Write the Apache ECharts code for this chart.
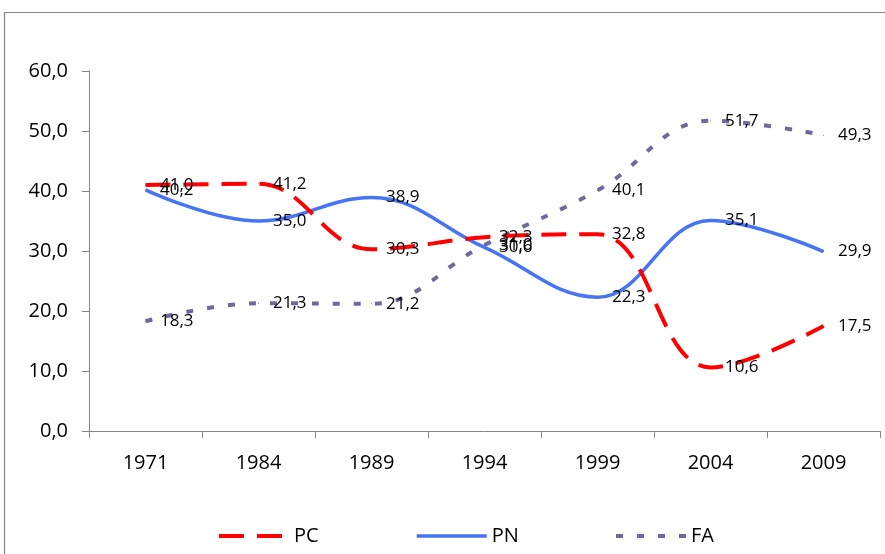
<!DOCTYPE html>
<html>
<head>
<meta charset="utf-8">
<script src="https://cdn.jsdelivr.net/npm/echarts@6/dist/echarts.min.js"></script>
<style>
html,body{margin:0;padding:0;background:#fff;}
#chart{width:885px;height:554px;}
</style>
</head>
<body>
<div id="chart"></div>
<script>
var categories = ['1971', '1984', '1989', '1994', '1999', '2004', '2009'];
var pcValues = [41.0, 41.2, 30.3, 32.3, 32.8, 10.6, 17.5];
var pnValues = [40.2, 35.0, 38.9, 30.6, 22.3, 35.1, 29.9];
var faValues = [18.3, 21.3, 21.2, 31.0, 40.1, 51.7, 49.3];
var yTickLabels = ['0,0', '10,0', '20,0', '30,0', '40,0', '50,0', '60,0'];
var seriesNames = ['PC', 'PN', 'FA'];

var FONT = 'Open Sans';
function fmt(v) { return v.toFixed(1).replace('.', ','); }

var chart = echarts.init(document.getElementById('chart'), null, {renderer: 'canvas'});

var styles = {
  PC: {color: '#FF0000', width: 4, type: [25, 13]},
  PN: {color: '#4674F5', width: 3.5, type: 'solid'},
  FA: {color: '#6A6A9C', width: 4, type: [7, 14]}
};

function legendAt(name, left) {
  return {
    data: [name],
    left: left,
    top: 526,
    itemWidth: 70,
    itemHeight: 14,
    padding: 0,
    itemStyle: {opacity: 0},
    lineStyle: {color: styles[name].color, width: styles[name].width, type: styles[name].type, cap: 'butt'},
    textStyle: {fontFamily: FONT, fontSize: 20, color: '#000'}
  };
}

function makeSeries(name, data, z) {
  var s = styles[name];
  return {
    name: name, type: 'line', data: data, smooth: 0.4,
    symbol: 'circle', symbolSize: 1, showSymbol: true, showAllSymbol: true,
    lineStyle: {color: s.color, width: s.width, type: s.type, cap: 'butt'},
    itemStyle: {color: s.color},
    label: {
      show: true,
      position: 'right',
      distance: 14,
      color: '#000',
      opacity: 1,
      fontFamily: FONT,
      fontSize: 17,
      formatter: function (p) { return fmt(p.value); }
    },
    labelLayout: {hideOverlap: false},
    z: z
  };
}

chart.setOption({
  animation: false,
  backgroundColor: '#fff',
  graphic: [{
    type: 'rect',
    shape: {x: 4.5, y: 12.5, width: 1000, height: 1000},
    style: {fill: 'none', stroke: '#868686', lineWidth: 1.2},
    silent: true
  }],
  legend: [legendAt(seriesNames[0], 217), legendAt(seriesNames[1], 415), legendAt(seriesNames[2], 614)],
  grid: {left: 89, right: 5, top: 71, bottom: 123, containLabel: false},
  xAxis: {
    type: 'category',
    data: categories,
    boundaryGap: true,
    axisLine: {lineStyle: {color: '#868686', width: 1}},
    axisTick: {show: true, length: 7, lineStyle: {color: '#868686'}},
    axisLabel: {margin: 22, color: '#000', fontFamily: FONT, fontSize: 20}
  },
  yAxis: {
    type: 'value',
    min: 0, max: 60, interval: 10,
    axisLine: {show: true, lineStyle: {color: '#868686', width: 1}},
    axisTick: {show: true, length: 7, lineStyle: {color: '#868686'}},
    splitLine: {show: false},
    axisLabel: {
      margin: 21, color: '#000', fontFamily: FONT, fontSize: 20,
      formatter: function (v) { return yTickLabels[Math.round(v / 10)]; }
    }
  },
  series: [
    makeSeries(seriesNames[0], pcValues, 3),
    makeSeries(seriesNames[1], pnValues, 2),
    makeSeries(seriesNames[2], faValues, 1)
  ]
});
</script>
</body>
</html>
